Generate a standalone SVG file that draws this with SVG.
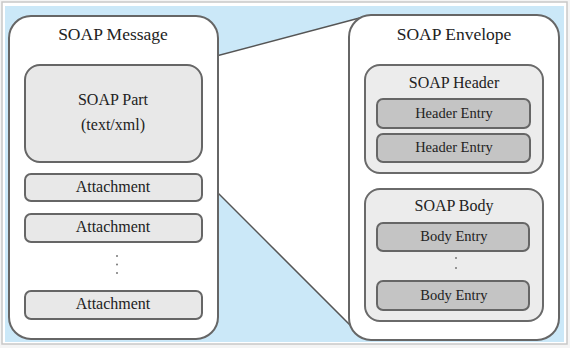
<svg xmlns="http://www.w3.org/2000/svg" width="570" height="348" viewBox="0 0 570 348">
<style>
text{font-family:'Liberation Serif','DejaVu Serif','Times New Roman',serif;fill:#222;text-anchor:middle}
.big{font-size:17.5px}
.mid{font-size:16px}
.sm{font-size:14.5px}
.box{fill:#fff;stroke:#666;stroke-width:2}
.lt{fill:#e8e8e8;stroke:#666;stroke-width:2}
.dk{fill:#c4c4c4;stroke:#666;stroke-width:2}
.grp{fill:#ececec;stroke:#6a6a6a;stroke-width:2}
.dot{fill:#777}
</style>
<rect x="0" y="0" width="570" height="348" fill="#f4f4f4"/>
<rect x="2" y="2" width="565" height="342" fill="#fff" stroke="#c8c8c8" stroke-width="1.5"/>
<rect x="5" y="6" width="559" height="336" fill="#cbe8f8"/>
<g id="connectors">
<polygon points="186,64 367,16 367,339 354,329 186,161" fill="#fff"/>
<line x1="186" y1="64" x2="367" y2="16" stroke="#555" stroke-width="1.5"/>
<line x1="186" y1="161" x2="354" y2="329" stroke="#555" stroke-width="1.5"/>
</g>
<g font-family="Liberation Serif, DejaVu Serif, serif">
<g id="soap-message">
<rect class="box" x="9" y="16" width="209" height="323" rx="22"/>
<text class="big" x="113" y="40">SOAP Message</text>
</g>
<g id="soap-part">
<rect class="lt" x="25" y="65" width="177" height="97" rx="15"/>
<text class="mid" x="113" y="105">SOAP Part</text>
<text class="mid" x="113" y="130">(text/xml)</text>
</g>
<g id="attachment-1">
<rect class="lt" x="25" y="174" width="177" height="27" rx="6"/>
<text class="mid" x="113" y="192">Attachment</text>
</g>
<g id="attachment-2">
<rect class="lt" x="25" y="214" width="177" height="28" rx="6"/>
<text class="mid" x="113" y="232">Attachment</text>
</g>
<g id="attachment-dots">
<circle class="dot" cx="117" cy="256" r="1"/>
<circle class="dot" cx="117" cy="264.5" r="1"/>
<circle class="dot" cx="117" cy="273" r="1"/>
</g>
<g id="attachment-3">
<rect class="lt" x="25" y="291" width="177" height="28" rx="6"/>
<text class="mid" x="113" y="309">Attachment</text>
</g>
<g id="soap-envelope">
<rect class="box" x="349" y="15" width="210" height="325" rx="22"/>
<text class="big" x="454" y="40">SOAP Envelope</text>
</g>
<g id="soap-header">
<rect class="grp" x="365" y="65" width="178" height="108" rx="15"/>
<text class="mid" x="454" y="88">SOAP Header</text>
</g>
<g id="header-entry-1">
<rect class="dk" x="377" y="99" width="153" height="29" rx="6"/>
<text class="sm" x="454" y="118">Header Entry</text>
</g>
<g id="header-entry-2">
<rect class="dk" x="377" y="134" width="153" height="28" rx="6"/>
<text class="sm" x="454" y="152">Header Entry</text>
</g>
<g id="soap-body">
<rect class="grp" x="365" y="189" width="178" height="132" rx="15"/>
<text class="mid" x="454" y="211">SOAP Body</text>
</g>
<g id="body-entry-1">
<rect class="dk" x="377" y="223" width="152" height="28" rx="6"/>
<text class="sm" x="454" y="241">Body Entry</text>
</g>
<g id="body-dots">
<circle class="dot" cx="456" cy="258" r="1"/>
<circle class="dot" cx="456" cy="268" r="1"/>
</g>
<g id="body-entry-2">
<rect class="dk" x="377" y="281" width="152" height="29" rx="6"/>
<text class="sm" x="454" y="300">Body Entry</text>
</g>
</g>
</svg>
